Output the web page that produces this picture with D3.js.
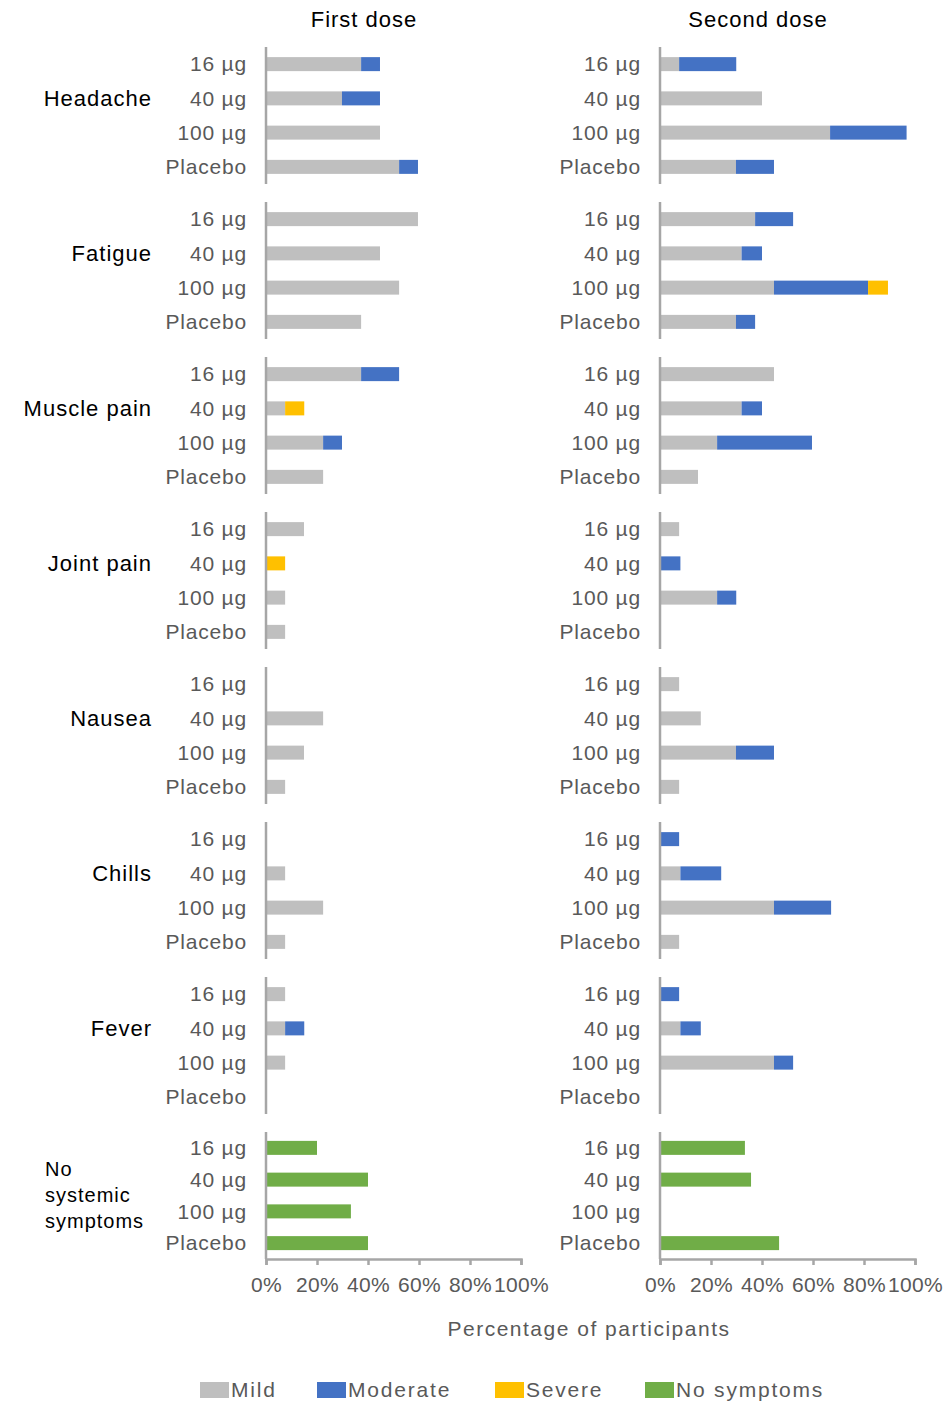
<!DOCTYPE html>
<html>
<head>
<meta charset="utf-8">
<script src="https://cdn.jsdelivr.net/npm/d3@7"></script>
<style>
  body { margin: 0; background: #fff; }
  text { font-family: "Liberation Sans", Arial, sans-serif; }
</style>
</head>
<body>
<script>
'use strict';

// categories
var symptoms = ['Headache', 'Fatigue', 'Muscle pain', 'Joint pain', 'Nausea', 'Chills', 'Fever'],
doses = ['16 µg', '40 µg', '100 µg', 'Placebo'],
panels = ['First dose', 'Second dose'],
ticks = [0, 20, 40, 60, 80, 100],

// first dose, % of participants, one row per symptom (16, 40, 100, placebo)
firstMild = [
	[37.3, 29.8, 44.7, 52.2],
	[59.6, 44.7, 52.2, 37.3],
	[37.3, 7.5, 22.4, 22.4],
	[14.9, 0, 7.5, 7.5],
	[0, 22.4, 14.9, 7.5],
	[0, 7.5, 22.4, 7.5],
	[7.5, 7.5, 7.5, 0]
],
firstModerate = [
	[7.4, 14.9, 0, 7.4],
	[0, 0, 0, 0],
	[14.9, 0, 7.4, 0],
	[0, 0, 0, 0],
	[0, 0, 0, 0],
	[0, 0, 0, 0],
	[0, 7.5, 0, 0]
],
firstSevere = [
	[0, 0, 0, 0],
	[0, 0, 0, 0],
	[0, 7.5, 0, 0],
	[0, 7.5, 0, 0],
	[0, 0, 0, 0],
	[0, 0, 0, 0],
	[0, 0, 0, 0]
],
firstNone = [20, 40, 33.3, 40],

// second dose
secondMild = [
	[7.5, 40, 66.7, 29.8],
	[37.3, 32, 44.7, 29.8],
	[44.7, 32, 22.4, 14.9],
	[7.5, 0, 22.4, 0],
	[7.5, 16, 29.8, 7.5],
	[0, 8, 44.7, 7.5],
	[0, 8, 44.7, 0]
],
secondModerate = [
	[22.4, 0, 30, 14.9],
	[14.9, 8, 36.9, 7.5],
	[0, 8, 37.2, 0],
	[0, 8, 7.5, 0],
	[0, 0, 14.9, 0],
	[7.5, 16, 22.4, 0],
	[7.5, 8, 7.5, 0]
],
secondSevere = [
	[0, 0, 0, 0],
	[0, 0, 7.8, 0],
	[0, 0, 0, 0],
	[0, 0, 0, 0],
	[0, 0, 0, 0],
	[0, 0, 0, 0],
	[0, 0, 0, 0]
],
secondNone = [33.3, 35.7, 0, 46.7],

legendNames = ['Mild', 'Moderate', 'Severe', 'No symptoms'],
colors = ['#bfbfbf', '#4472c4', '#ffc000', '#70ad47'];

var mild = [firstMild, secondMild],
	moderate = [firstModerate, secondModerate],
	severe = [firstSevere, secondSevere],
	none = [firstNone, secondNone];

var width = 952, height = 1404,
	panelLeft = [266, 660],
	panelWidth = 255,
	groupTop = 47, groupStep = 155, groupHeight = 137,
	barHeight = 14,
	axisColor = '#a6a6a6',
	labelColor = '#595959';

var svg = d3.select('body').append('svg')
	.attr('width', width)
	.attr('height', height);

panels.forEach(function(title, p) {

	var x = d3.scaleLinear()
		.domain([0, 100])
		.range([panelLeft[p], panelLeft[p] + panelWidth]);

	svg.append('text')
		.attr('x', p == 0 ? 364 : 758)
		.attr('y', 19)
		.attr('dy', '0.35em')
		.attr('text-anchor', 'middle')
		.style('font-size', '22px')
		.style('letter-spacing', '1px')
		.attr('fill', '#000')
		.text(title);

	// one small stacked chart per symptom
	symptoms.forEach(function(name, s) {
		var top = groupTop + s * groupStep,
			y = d3.scaleBand().domain(doses).range([top, top + groupHeight]),
			g = svg.append('g');

		var rows = doses.map(function(d, i) {
			return { dose: d, vals: [mild[p][s][i], moderate[p][s][i], severe[p][s][i]] };
		});

		rows.forEach(function(r) {
			var start = 0;
			r.vals.forEach(function(v, k) {
				if (v > 0) {
					g.append('rect')
						.attr('x', x(start))
						.attr('y', y(r.dose) + y.bandwidth() / 2 - barHeight / 2)
						.attr('width', x(start + v) - x(start))
						.attr('height', barHeight)
						.attr('fill', colors[k]);
				}
				start += v;
			});
		});

		drawDoseAxis(g, y, x);

		if (p == 0) {
			svg.append('text')
				.attr('x', 152)
				.attr('y', top + 51)
				.attr('dy', '0.35em')
				.attr('text-anchor', 'end')
				.style('font-size', '22px')
				.style('letter-spacing', '1px')
				.attr('fill', '#000')
				.text(name);
		}
	});

	// no systemic symptoms, with the x axis
	var top = 1132,
		y = d3.scaleBand().domain(doses).range([top, 1259]),
		g = svg.append('g');

	g.selectAll('rect')
		.data(doses.filter(function(d, i) { return none[p][i] > 0; }))
		.enter().append('rect')
			.attr('x', x(0))
			.attr('y', function(d) { return y(d) + y.bandwidth() / 2 - barHeight / 2; })
			.attr('width', function(d) { return x(none[p][doses.indexOf(d)]) - x(0); })
			.attr('height', barHeight)
			.attr('fill', colors[3]);

	drawDoseAxis(g, y, x);

	var xAxis = svg.append('g')
		.attr('transform', 'translate(0,1259)')
		.call(d3.axisBottom(x).tickValues(ticks).tickSize(6).tickPadding(12)
			.tickFormat(function(d) { return d + '%'; }));
	xAxis.select('.domain').attr('stroke', axisColor).attr('stroke-width', 2.5);
	xAxis.selectAll('.tick line').attr('stroke', axisColor).attr('stroke-width', 2.5);
	xAxis.selectAll('.tick text')
		.attr('fill', labelColor)
		.style('font-size', '21px')
		.style('letter-spacing', '0.3px')
		.style('font-family', '"Liberation Sans", Arial, sans-serif');
});

// left label of the last group
svg.append('text')
	.attr('x', 45)
	.attr('y', 1169)
	.attr('fill', '#000')
	.style('font-size', '20px')
	.style('letter-spacing', '1px')
	.selectAll('tspan')
	.data(['No', 'systemic', 'symptoms'])
	.enter().append('tspan')
		.attr('x', 45)
		.attr('dy', function(d, i) { return i == 0 ? '0.35em' : '26px'; })
		.text(function(d) { return d; });

svg.append('text')
	.attr('x', 589)
	.attr('y', 1329)
	.attr('dy', '0.35em')
	.attr('text-anchor', 'middle')
	.attr('fill', labelColor)
	.style('font-size', '21px')
	.style('letter-spacing', '1.5px')
	.text('Percentage of participants');

// legend
var legendX = [200, 317, 495, 645];
var legend = svg.selectAll('.legend')
	.data(legendNames)
	.enter().append('g')
	.attr('class', 'legend')
	.attr('transform', function(d, i) { return 'translate(' + legendX[i] + ',1390)'; });

legend.append('rect')
	.attr('x', 0)
	.attr('y', -8)
	.attr('width', 29)
	.attr('height', 16)
	.attr('fill', function(d, i) { return colors[i]; });

legend.append('text')
	.attr('x', 31)
	.attr('dy', '0.35em')
	.attr('fill', labelColor)
	.style('font-size', '21px')
	.style('letter-spacing', '1.8px')
	.text(function(d) { return d; });

/*
* Draws the vertical axis line and dose labels of one group.
*/
function drawDoseAxis(g, y, x) {
	var r = y.range();
	g.append('line')
		.attr('x1', x(0))
		.attr('x2', x(0))
		.attr('y1', r[0])
		.attr('y2', r[1])
		.attr('stroke', axisColor)
		.attr('stroke-width', 2.5);

	g.selectAll('.dose')
		.data(doses)
		.enter().append('text')
			.attr('class', 'dose')
			.attr('x', x(0) - 19)
			.attr('y', function(d) { return y(d) + y.bandwidth() / 2; })
			.attr('dy', '0.35em')
			.attr('text-anchor', 'end')
			.attr('fill', labelColor)
			.style('font-size', '21px')
			.style('letter-spacing', '0.8px')
			.text(function(d) { return d; });
}
</script>
</body>
</html>
